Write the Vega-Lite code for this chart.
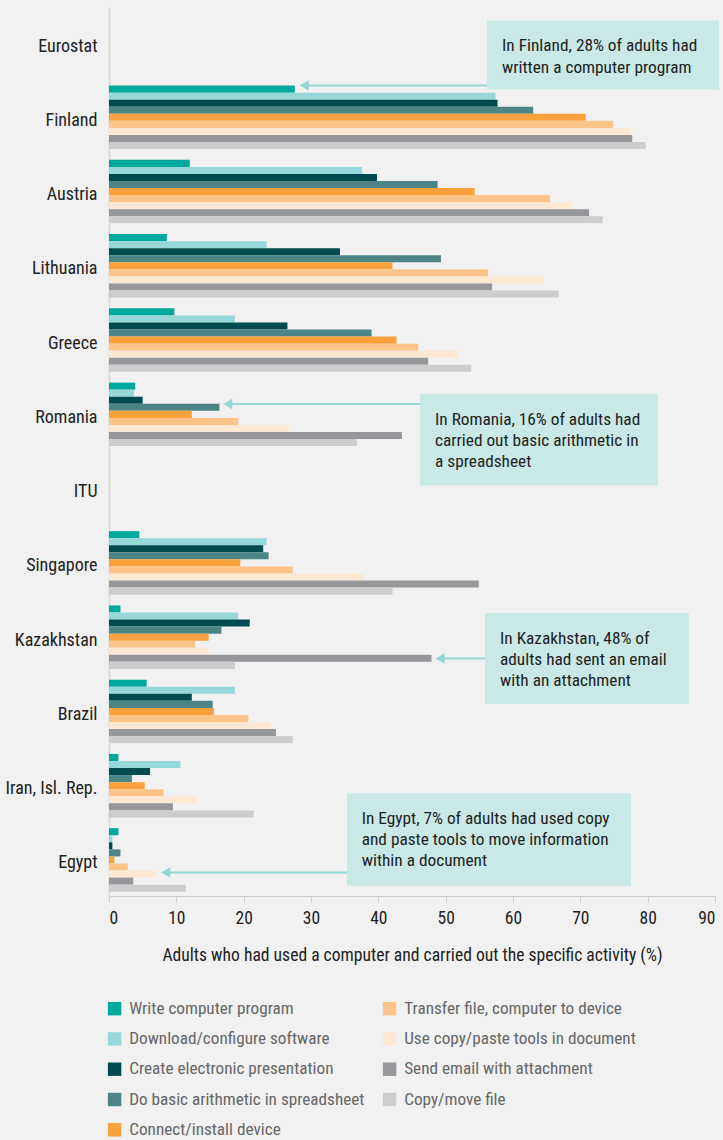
{
  "$schema": "https://vega.github.io/schema/vega-lite/v6.json",
  "width": 606,
  "height": 889,
  "autosize": {"type": "none"},
  "padding": {"left": 109, "top": 7, "right": 8, "bottom": 244},
  "background": "#f1f1f1",
  "config": {
    "view": {"stroke": null},
    "font": "Liberation Sans Narrow, Roboto Condensed, Lato, sans-serif"
  },
  "datasets": {
    "bars": [
      {"c": "Finland", "a": "Write computer program", "v": 27.6},
      {"c": "Finland", "a": "Download/configure software", "v": 57.4},
      {"c": "Finland", "a": "Create electronic presentation", "v": 57.7},
      {"c": "Finland", "a": "Do basic arithmetic in spreadsheet", "v": 63.0},
      {"c": "Finland", "a": "Connect/install device", "v": 70.8},
      {"c": "Finland", "a": "Transfer file, computer to device", "v": 74.9},
      {"c": "Finland", "a": "Use copy/paste tools in document", "v": 77.5},
      {"c": "Finland", "a": "Send email with attachment", "v": 77.7},
      {"c": "Finland", "a": "Copy/move file", "v": 79.7},
      {"c": "Austria", "a": "Write computer program", "v": 12.0},
      {"c": "Austria", "a": "Download/configure software", "v": 37.6},
      {"c": "Austria", "a": "Create electronic presentation", "v": 39.8},
      {"c": "Austria", "a": "Do basic arithmetic in spreadsheet", "v": 48.8},
      {"c": "Austria", "a": "Connect/install device", "v": 54.3},
      {"c": "Austria", "a": "Transfer file, computer to device", "v": 65.5},
      {"c": "Austria", "a": "Use copy/paste tools in document", "v": 68.6},
      {"c": "Austria", "a": "Send email with attachment", "v": 71.3},
      {"c": "Austria", "a": "Copy/move file", "v": 73.3},
      {"c": "Lithuania", "a": "Write computer program", "v": 8.6},
      {"c": "Lithuania", "a": "Download/configure software", "v": 23.4},
      {"c": "Lithuania", "a": "Create electronic presentation", "v": 34.3},
      {"c": "Lithuania", "a": "Do basic arithmetic in spreadsheet", "v": 49.3},
      {"c": "Lithuania", "a": "Connect/install device", "v": 42.1},
      {"c": "Lithuania", "a": "Transfer file, computer to device", "v": 56.3},
      {"c": "Lithuania", "a": "Use copy/paste tools in document", "v": 64.6},
      {"c": "Lithuania", "a": "Send email with attachment", "v": 56.9},
      {"c": "Lithuania", "a": "Copy/move file", "v": 66.8},
      {"c": "Greece", "a": "Write computer program", "v": 9.7},
      {"c": "Greece", "a": "Download/configure software", "v": 18.7},
      {"c": "Greece", "a": "Create electronic presentation", "v": 26.5},
      {"c": "Greece", "a": "Do basic arithmetic in spreadsheet", "v": 39.0},
      {"c": "Greece", "a": "Connect/install device", "v": 42.7},
      {"c": "Greece", "a": "Transfer file, computer to device", "v": 45.9},
      {"c": "Greece", "a": "Use copy/paste tools in document", "v": 51.8},
      {"c": "Greece", "a": "Send email with attachment", "v": 47.4},
      {"c": "Greece", "a": "Copy/move file", "v": 53.8},
      {"c": "Romania", "a": "Write computer program", "v": 3.9},
      {"c": "Romania", "a": "Download/configure software", "v": 3.7},
      {"c": "Romania", "a": "Create electronic presentation", "v": 5.0},
      {"c": "Romania", "a": "Do basic arithmetic in spreadsheet", "v": 16.4},
      {"c": "Romania", "a": "Connect/install device", "v": 12.3},
      {"c": "Romania", "a": "Transfer file, computer to device", "v": 19.2},
      {"c": "Romania", "a": "Use copy/paste tools in document", "v": 26.7},
      {"c": "Romania", "a": "Send email with attachment", "v": 43.5},
      {"c": "Romania", "a": "Copy/move file", "v": 36.8},
      {"c": "Singapore", "a": "Write computer program", "v": 4.5},
      {"c": "Singapore", "a": "Download/configure software", "v": 23.4},
      {"c": "Singapore", "a": "Create electronic presentation", "v": 22.9},
      {"c": "Singapore", "a": "Do basic arithmetic in spreadsheet", "v": 23.7},
      {"c": "Singapore", "a": "Connect/install device", "v": 19.5},
      {"c": "Singapore", "a": "Transfer file, computer to device", "v": 27.3},
      {"c": "Singapore", "a": "Use copy/paste tools in document", "v": 37.8},
      {"c": "Singapore", "a": "Send email with attachment", "v": 54.9},
      {"c": "Singapore", "a": "Copy/move file", "v": 42.1},
      {"c": "Kazakhstan", "a": "Write computer program", "v": 1.7},
      {"c": "Kazakhstan", "a": "Download/configure software", "v": 19.2},
      {"c": "Kazakhstan", "a": "Create electronic presentation", "v": 20.9},
      {"c": "Kazakhstan", "a": "Do basic arithmetic in spreadsheet", "v": 16.7},
      {"c": "Kazakhstan", "a": "Connect/install device", "v": 14.8},
      {"c": "Kazakhstan", "a": "Transfer file, computer to device", "v": 12.8},
      {"c": "Kazakhstan", "a": "Use copy/paste tools in document", "v": 14.8},
      {"c": "Kazakhstan", "a": "Send email with attachment", "v": 47.9},
      {"c": "Kazakhstan", "a": "Copy/move file", "v": 18.7},
      {"c": "Brazil", "a": "Write computer program", "v": 5.6},
      {"c": "Brazil", "a": "Download/configure software", "v": 18.7},
      {"c": "Brazil", "a": "Create electronic presentation", "v": 12.3},
      {"c": "Brazil", "a": "Do basic arithmetic in spreadsheet", "v": 15.4},
      {"c": "Brazil", "a": "Connect/install device", "v": 15.6},
      {"c": "Brazil", "a": "Transfer file, computer to device", "v": 20.7},
      {"c": "Brazil", "a": "Use copy/paste tools in document", "v": 24.0},
      {"c": "Brazil", "a": "Send email with attachment", "v": 24.8},
      {"c": "Brazil", "a": "Copy/move file", "v": 27.3},
      {"c": "Iran, Isl. Rep.", "a": "Write computer program", "v": 1.4},
      {"c": "Iran, Isl. Rep.", "a": "Download/configure software", "v": 10.6},
      {"c": "Iran, Isl. Rep.", "a": "Create electronic presentation", "v": 6.1},
      {"c": "Iran, Isl. Rep.", "a": "Do basic arithmetic in spreadsheet", "v": 3.4},
      {"c": "Iran, Isl. Rep.", "a": "Connect/install device", "v": 5.3},
      {"c": "Iran, Isl. Rep.", "a": "Transfer file, computer to device", "v": 8.1},
      {"c": "Iran, Isl. Rep.", "a": "Use copy/paste tools in document", "v": 13.1},
      {"c": "Iran, Isl. Rep.", "a": "Send email with attachment", "v": 9.5},
      {"c": "Iran, Isl. Rep.", "a": "Copy/move file", "v": 21.5},
      {"c": "Egypt", "a": "Write computer program", "v": 1.4},
      {"c": "Egypt", "a": "Download/configure software", "v": 0.5},
      {"c": "Egypt", "a": "Create electronic presentation", "v": 0.5},
      {"c": "Egypt", "a": "Do basic arithmetic in spreadsheet", "v": 1.7},
      {"c": "Egypt", "a": "Connect/install device", "v": 0.8},
      {"c": "Egypt", "a": "Transfer file, computer to device", "v": 2.8},
      {"c": "Egypt", "a": "Use copy/paste tools in document", "v": 6.9},
      {"c": "Egypt", "a": "Send email with attachment", "v": 3.6},
      {"c": "Egypt", "a": "Copy/move file", "v": 11.4}
    ],
    "notes": [
      {"t": "In Finland, 28% of adults had\nwritten a computer program", "bx": 56.14, "bx2": 90.6, "by": 0.182, "by2": 1.114, "tx": 58.37, "ty": 0.597, "ay": 1.06, "px": 29.0},
      {"t": "In Romania, 16% of adults had\ncarried out basic arithmetic in\na spreadsheet", "bx": 46.19, "bx2": 81.5, "by": 5.219, "by2": 6.458, "tx": 48.42, "ty": 5.638, "ay": 5.358, "px": 17.63},
      {"t": "In Kazakhstan, 48% of\nadults had sent an email\nwith an attachment", "bx": 55.84, "bx2": 86.1, "by": 8.181, "by2": 9.41, "tx": 58.07, "ty": 8.596, "ay": 8.794, "px": 49.16},
      {"t": "In Egypt, 7% of adults had used copy\nand paste tools to move information\nwithin a document", "bx": 35.35, "bx2": 77.53, "by": 10.612, "by2": 11.86, "tx": 37.53, "ty": 11.026, "ay": 11.684, "px": 8.42}
    ]
  },
  "layer": [
    {
      "data": {"name": "bars"},
      "mark": {"type": "bar"},
      "encoding": {
        "y": {
          "field": "c",
          "type": "nominal",
          "scale": {
            "domain": ["Eurostat", "Finland", "Austria", "Lithuania", "Greece", "Romania", "ITU", "Singapore", "Kazakhstan", "Brazil", "Iran, Isl. Rep.", "Egypt"],
            "paddingInner": 0.145,
            "paddingOuter": 0.058
          },
          "axis": {
            "title": null,
            "ticks": false,
            "tickSize": 0,
            "labelPadding": 12,
            "labelFontSize": 18,
            "labelColor": "#222222",
            "labelOffset": 3.5,
            "domainColor": "#dcdcdc",
            "domainWidth": 2
          }
        },
        "yOffset": {
          "field": "a",
          "scale": {
            "domain": ["Write computer program", "Download/configure software", "Create electronic presentation", "Do basic arithmetic in spreadsheet", "Connect/install device", "Transfer file, computer to device", "Use copy/paste tools in document", "Send email with attachment", "Copy/move file"],
            "paddingInner": 0,
            "paddingOuter": 0
          }
        },
        "x": {
          "field": "v",
          "type": "quantitative",
          "scale": {"domain": [0, 90], "nice": false},
          "axis": {
            "title": "Adults who had used a computer and carried out the specific activity (%)",
            "values": [0, 10, 20, 30, 40, 50, 60, 70, 80, 90],
            "grid": false,
            "domainColor": "#cccccc",
            "tickColor": "#cccccc",
            "tickSize": 6,
            "labelFontSize": 17.5,
            "labelColor": "#222222",
            "labelPadding": 7,
            "titleFontSize": 17.6,
            "titleFontWeight": "normal",
            "titleColor": "#222222",
            "titlePadding": 20
          }
        },
        "color": {
          "field": "a",
          "type": "nominal",
          "scale": {
            "domain": ["Write computer program", "Download/configure software", "Create electronic presentation", "Do basic arithmetic in spreadsheet", "Connect/install device", "Transfer file, computer to device", "Use copy/paste tools in document", "Send email with attachment", "Copy/move file"],
            "range": ["#00a99d", "#96d7da", "#004b50", "#4d8486", "#f9a13a", "#fcc488", "#fde9d3", "#96979b", "#cdcdcd"]
          },
          "legend": {
            "orient": "none",
            "legendX": -3,
            "legendY": 993,
            "columns": 2,
            "title": null,
            "symbolType": "square",
            "symbolSize": 180,
            "symbolStrokeWidth": 0,
            "symbolOpacity": 1,
            "labelFontSize": 17.2,
            "labelColor": "#666666",
            "labelOffset": 6,
            "labelLimit": 400,
            "rowPadding": 12.3,
            "columnPadding": 16
          }
        }
      }
    },
    {
      "data": {"name": "notes"},
      "layer": [
        {
          "mark": {"type": "rect", "color": "#c8e9e6"},
          "encoding": {
            "x": {"field": "bx", "type": "quantitative"},
            "x2": {"field": "bx2"},
            "y": {"field": "by", "type": "quantitative", "scale": {"domain": [0, 12], "reverse": true, "nice": false, "zero": false}, "axis": null},
            "y2": {"field": "by2"}
          }
        },
        {
          "mark": {"type": "rule", "color": "#96d6d6", "strokeWidth": 2},
          "encoding": {
            "x": {"field": "bx", "type": "quantitative"},
            "x2": {"field": "px"},
            "y": {"field": "ay", "type": "quantitative", "axis": null}
          }
        },
        {
          "mark": {"type": "point", "shape": "triangle-left", "filled": true, "size": 110, "color": "#96d6d6", "opacity": 1},
          "encoding": {
            "x": {"field": "px", "type": "quantitative"},
            "y": {"field": "ay", "type": "quantitative", "axis": null}
          }
        },
        {
          "mark": {"type": "text", "lineBreak": "\n", "align": "left", "baseline": "alphabetic", "fontSize": 17.3, "lineHeight": 21.3, "color": "#1e1e1e"},
          "encoding": {
            "x": {"field": "tx", "type": "quantitative"},
            "y": {"field": "ty", "type": "quantitative", "axis": null},
            "text": {"field": "t"}
          }
        }
      ]
    }
  ],
  "resolve": {"scale": {"y": "independent"}}
}
